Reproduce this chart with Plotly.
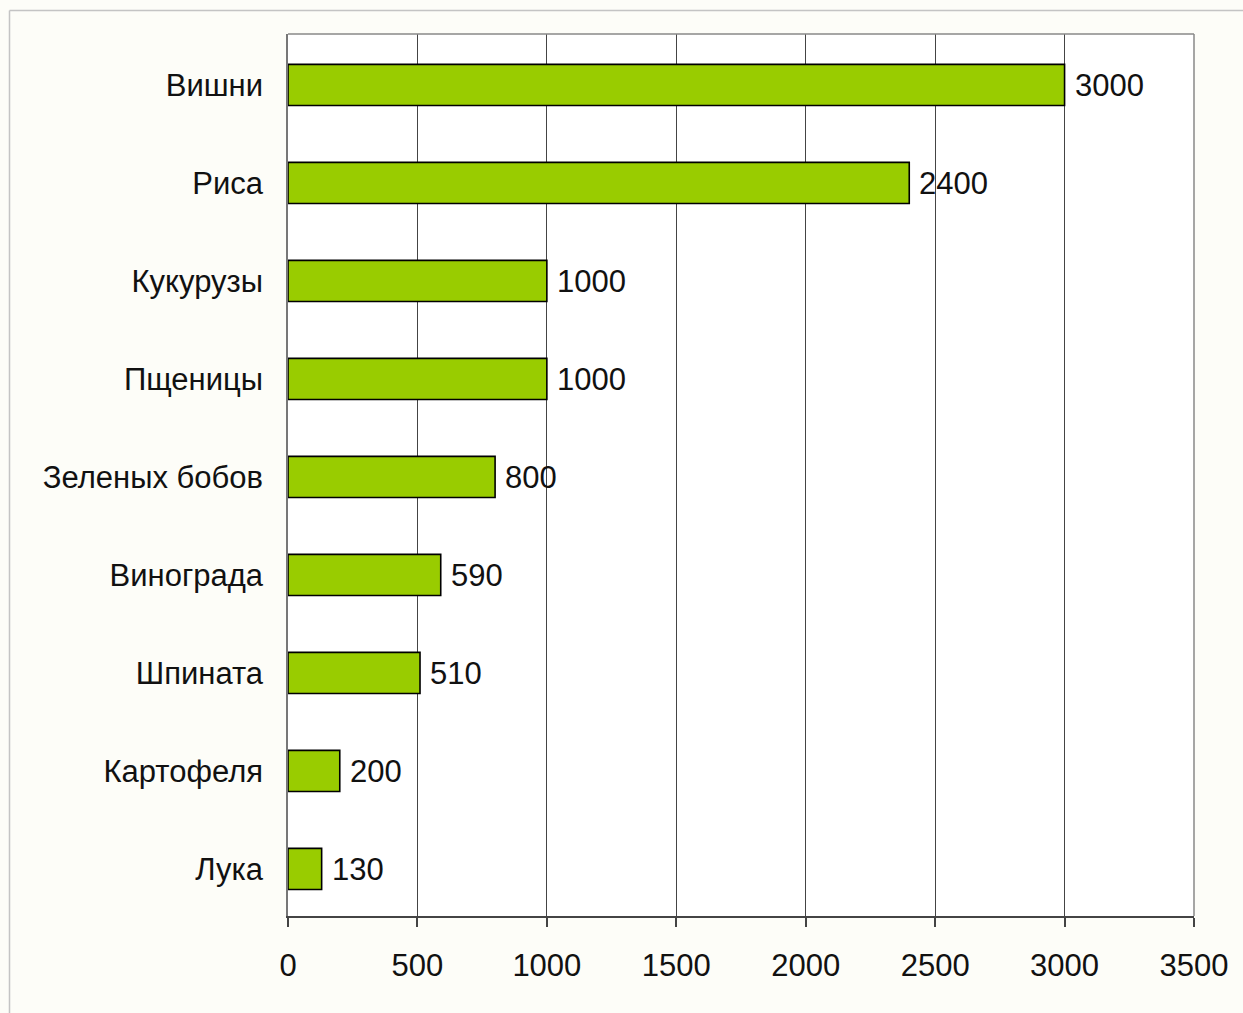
import plotly.graph_objects as go

# Categories listed top to bottom
categories = ["Вишни", "Риса", "Кукурузы", "Пщеницы", "Зеленых бобов",
              "Винограда", "Шпината", "Картофеля", "Лука"]
values = [3000, 2400, 1000, 1000, 800, 590, 510, 200, 130]
x_ticks = [0, 500, 1000, 1500, 2000, 2500, 3000, 3500]

FONT = "Liberation Sans, Arial, sans-serif"
FS = 31
W, H = 1243, 1013
L, R, T, B = 288, 49, 34, 97

fig = go.Figure()
fig.add_trace(go.Bar(
    y=categories,
    x=values,
    orientation="h",
    marker=dict(color="#99CC00", line=dict(color="#000000", width=1.6)),
    hoverinfo="x+y",
))

# value labels just right of each bar end
for cat, v in zip(categories, values):
    fig.add_annotation(x=v, y=cat, text=str(v), showarrow=False,
                       xanchor="left", yanchor="middle", xshift=8, yshift=-1,
                       font=dict(family=FONT, size=FS, color="#111111"))

# thin light-grey frame around the figure area (top and left edges)
pw, ph = W - L - R, H - T - B
def px_x(px):
    return (px - L) / pw
def px_y(py):
    return (H - B - py) / ph
fig.add_shape(type="line", xref="paper", yref="paper",
              x0=px_x(9.5), x1=px_x(W + 5), y0=px_y(10.5), y1=px_y(10.5),
              line=dict(color="#c4c4c4", width=1.5))
fig.add_shape(type="line", xref="paper", yref="paper",
              x0=px_x(9.5), x1=px_x(9.5), y0=px_y(10.5), y1=px_y(H + 5),
              line=dict(color="#c4c4c4", width=1.5))

fig.update_layout(
    width=W, height=H,
    margin=dict(l=L, r=R, t=T, b=B, pad=0),
    paper_bgcolor="#FDFDF8",
    plot_bgcolor="#FFFFFF",
    showlegend=False,
    bargap=0.58,
    font=dict(family=FONT, size=FS, color="#111111"),
    xaxis=dict(
        range=[0, 3500],
        tickvals=x_ticks,
        ticktext=[str(t) for t in x_ticks],
        showgrid=True, gridcolor="#444444", gridwidth=1,
        zeroline=False,
        showline=True, linecolor="#444444", linewidth=1.5, mirror=False,
        ticks="outside", ticklen=9, tickcolor="#444444", tickwidth=1.5,
        ticklabelstandoff=12,
        tickfont=dict(family=FONT, size=FS, color="#111111"),
    ),
    yaxis=dict(
        categoryorder="array",
        categoryarray=categories[::-1],
        range=[-0.48, 8.52],
        showgrid=False, zeroline=False,
        showline=True, linecolor="#777777", linewidth=1.5,
        ticks="", ticklabelstandoff=17,
        tickfont=dict(family=FONT, size=FS, color="#111111"),
    ),
)

# grey outline on the top and right edges of the plot area
fig.add_shape(type="line", xref="paper", yref="paper", x0=0, x1=1, y0=1, y1=1,
              line=dict(color="#888888", width=1.5))
fig.add_shape(type="line", xref="paper", yref="paper", x0=1, x1=1, y0=0, y1=1,
              line=dict(color="#888888", width=1.5))

fig.write_html("out.html")
